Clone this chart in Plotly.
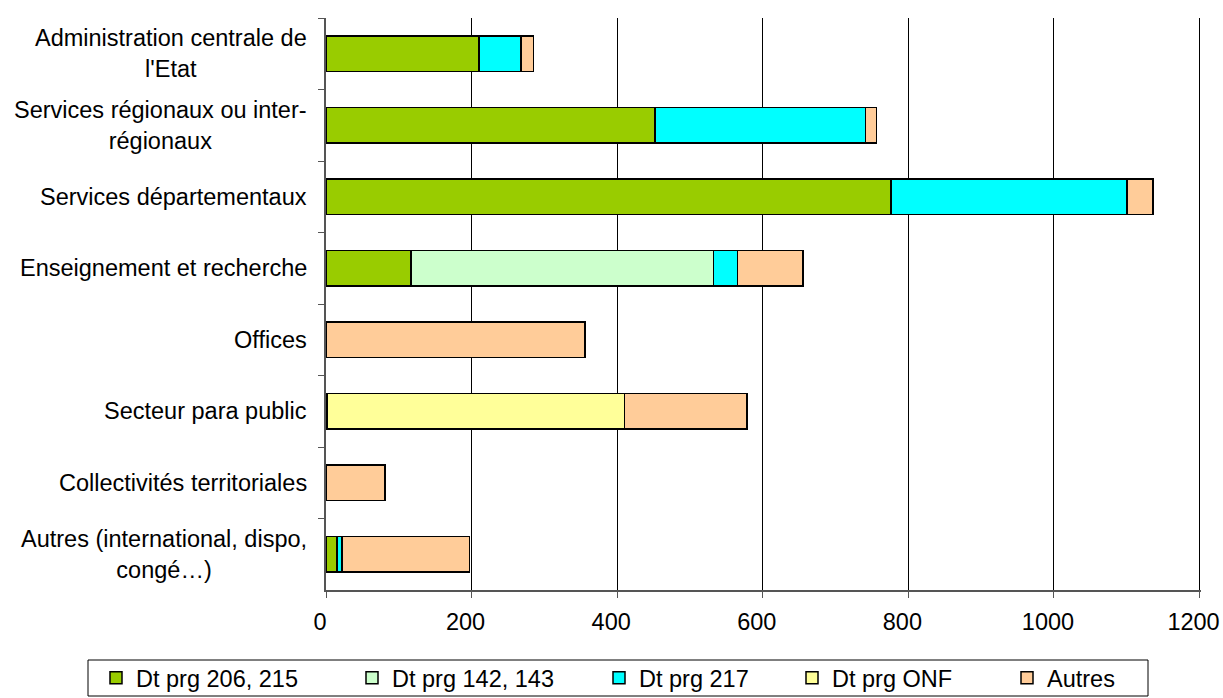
import plotly.graph_objects as go

categories = [
    "Administration centrale de l'Etat",
    "Services régionaux ou inter-régionaux",
    "Services départementaux",
    "Enseignement et recherche",
    "Offices",
    "Secteur para public",
    "Collectivités territoriales",
    "Autres (international, dispo, congé…)",
]
category_labels = [
    "Administration centrale de<br>l'Etat",
    "Services régionaux ou inter-<br>régionaux",
    "Services départementaux",
    "Enseignement et recherche",
    "Offices",
    "Secteur para public",
    "Collectivités territoriales",
    "Autres (international, dispo,<br>congé…)",
]
series_names = ["Dt prg 206, 215", "Dt prg 142, 143", "Dt prg 217", "Dt prg ONF", "Autres"]
prg_206_215 = [210, 452, 776, 117, None, 2, None, 15]
prg_142_143 = [None, None, None, 415, None, None, None, None]
prg_217 = [58, 289, 324, 33, None, None, None, 7]
prg_onf = [None, None, None, None, None, 408, None, None]
autres = [17, 15, 36, 90, 356, 168, 81, 175]
x_ticks = [0, 200, 400, 600, 800, 1000, 1200]

series_values = [prg_206_215, prg_142_143, prg_217, prg_onf, autres]
colors = ["#99CC00", "#CCFFCC", "#00FFFF", "#FFFF99", "#FFCC99"]

FONT = "Arial, 'Liberation Sans', sans-serif"
FS = 23.5

fig = go.Figure()
legend_ids = ["legend", "legend2", "legend3", "legend4", "legend5"]
for name, vals, col, lg in zip(series_names, series_values, colors, legend_ids):
    fig.add_trace(go.Bar(
        y=categories, x=vals, name=name, orientation="h",
        marker=dict(color=col, line=dict(color="black", width=1.5)),
        legend=lg,
    ))

L, R, T, B = 326, 22, 18, 108
plot_w = 1223 - L - R
plot_h = 698 - T - B
# legend positions (left of each entry), in px from figure left
legend_px = [96, 352, 599, 792, 1007]
leg_layout = {}
for lg, px in zip(legend_ids, legend_px):
    leg_layout[lg] = dict(
        x=(px - L) / plot_w, xanchor="left",
        y=-(656 - (698 - B)) / plot_h, yanchor="top",
        orientation="h", bgcolor="rgba(0,0,0,0)", borderwidth=0,
        font=dict(family=FONT, size=FS, color="black"),
        itemwidth=30,
    )

fig.update_layout(
    width=1223, height=698,
    margin=dict(l=L, r=R, t=T, b=B, autoexpand=False),
    barmode="stack", bargap=0.5,
    plot_bgcolor="white", paper_bgcolor="white",
    font=dict(family=FONT, size=FS, color="black"),
    showlegend=True,
    **leg_layout,
)

fig.update_xaxes(
    range=[0, 1202], tickvals=x_ticks, ticktext=[str(v) for v in x_ticks],
    showgrid=True, gridcolor="black", gridwidth=1,
    showline=True, linecolor="#555555", linewidth=1.5,
    ticks="outside", ticklen=6, tickcolor="#555555",
    ticklabelstandoff=4, ticklabelshift=-6, ticklabeloverflow="allow",
    zeroline=False, tickfont=dict(family=FONT, size=FS, color="black"),
)
fig.update_yaxes(
    categoryorder="array", categoryarray=categories, autorange="reversed",
    showticklabels=False, tickson="boundaries",
    showline=True, linecolor="#555555", linewidth=1.5,
    ticks="outside", ticklen=6, tickcolor="#555555",
    showgrid=False,
)

for cat, lab in zip(categories, category_labels):
    fig.add_annotation(
        x=0, xref="paper", xanchor="right", xshift=-17,
        y=cat, yref="y", yanchor="middle",
        text=lab, showarrow=False, align="center",
        font=dict(family=FONT, size=FS, color="black"),
    )

# legend frame
fig.add_shape(
    type="rect", xref="paper", yref="paper",
    x0=(88 - L) / plot_w, x1=(1148 - L) / plot_w,
    y0=-(660 - (698 - B)) / plot_h, y1=-(696 - (698 - B)) / plot_h,
    line=dict(color="black", width=1), fillcolor="rgba(0,0,0,0)",
)

fig.write_html(
    "out.html",
    config={"displayModeBar": False},
    post_script="document.body.style.margin='0px';document.body.style.overflow='hidden';",
)
